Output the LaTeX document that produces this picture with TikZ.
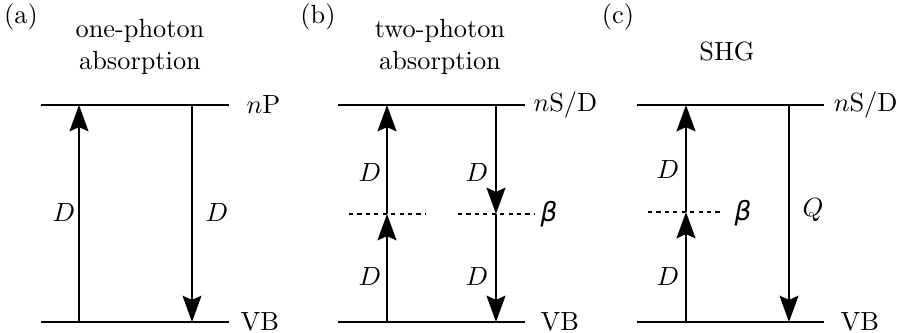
\documentclass[tikz,border=0pt]{standalone}
\usepackage{fontspec}
\newfontfamily\betafont{DejaVu Sans}
\usetikzlibrary{arrows.meta}
\begin{document}
\begin{tikzpicture}[x=0.38pt,y=-0.38pt,
  level/.style={line width=0.8pt},
  thickarr/.style={line width=0.8pt,-{Stealth[length=10pt,width=7.2pt,inset=1.6pt]}},
  thinarr/.style={line width=0.5pt,-{Stealth[length=10pt,width=7.2pt,inset=1.6pt]}},
  virt/.style={line width=0.45pt,dash pattern=on 1.6pt off 1.6pt},
  lbl/.style={inner sep=0pt},
  beta/.style={inner sep=0pt,font=\betafont\itshape}]
\useasboundingbox (0,0) rectangle (900,333);
% ---------- (a)
\node[lbl] (pa) at (21,17) {(a)};
\node[lbl,align=center] (ta) at (140,47) {one-photon\\absorption};
\coordinate (aTL) at (41,105); \coordinate (aTR) at (229,105);
\coordinate (aBL) at (41,322); \coordinate (aBR) at (229,322);
\draw[level] (aTL) -- (aTR);
\draw[level] (aBL) -- (aBR);
\node[lbl,anchor=west] (lnP) at (246,105) {$n$P};
\node[lbl,anchor=west] (laVB) at (240,322) {VB};
\coordinate (aU0) at (79,322); \coordinate (aU1) at (79,105);
\coordinate (aD0) at (192,105); \coordinate (aD1) at (192,322);
\draw[thickarr] (aU0) -- (aU1);
\draw[thinarr] (aD0) -- (aD1);
\node[lbl] (aL1) at (64,213) {$D$};
\node[lbl] (aL2) at (217,213) {$D$};
% ---------- (b)
\node[lbl] (pb) at (318,17) {(b)};
\node[lbl,align=center] (tb) at (440,47) {two-photon\\absorption};
\coordinate (bTL) at (338,105); \coordinate (bTR) at (525,105);
\coordinate (bBL) at (338,322); \coordinate (bBR) at (525,322);
\draw[level] (bTL) -- (bTR);
\draw[level] (bBL) -- (bBR);
\node[lbl,anchor=west] (lbS) at (533,105) {$n$S/D};
\node[lbl,anchor=west] (lbVB) at (540,322) {VB};
\coordinate (bV1L) at (349,214); \coordinate (bV1R) at (425,214);
\coordinate (bV2L) at (458,214); \coordinate (bV2R) at (535,214);
\draw[virt] (bV1L) -- (bV1R);
\draw[virt] (bV2L) -- (bV2R);
\node[beta] (bb) at (549,214) {β};
\coordinate (bU0) at (387,322); \coordinate (bUm) at (387,214); \coordinate (bU1) at (387,105);
\coordinate (bD0) at (496,105); \coordinate (bDm) at (496,214); \coordinate (bD1) at (496,322);
\draw[thickarr] (bU0) -- (bUm);
\draw[thickarr] (bUm) -- (bU1);
\draw[thickarr] (bD0) -- (bDm);
\draw[thickarr] (bDm) -- (bD1);
\node[lbl] (bL1) at (370,173) {$D$};
\node[lbl] (bL2) at (370,277) {$D$};
\node[lbl] (bL3) at (477,173) {$D$};
\node[lbl] (bL4) at (477,277) {$D$};
% ---------- (c)
\node[lbl] (pc) at (618,17) {(c)};
\node[lbl] (tc) at (727,52) {SHG};
\coordinate (cTL) at (637,105); \coordinate (cTR) at (824,105);
\coordinate (cBL) at (637,322); \coordinate (cBR) at (824,322);
\draw[level] (cTL) -- (cTR);
\draw[level] (cBL) -- (cBR);
\node[lbl,anchor=east] (lcS) at (898,105) {$n$S/D};
\node[lbl,anchor=west] (lcVB) at (840,322) {VB};
\coordinate (cVL) at (648,212); \coordinate (cVR) at (723,212);
\draw[virt] (cVL) -- (cVR);
\node[beta] (cb) at (743,213) {β};
\coordinate (cU0) at (686,322); \coordinate (cUm) at (686,212); \coordinate (cU1) at (686,105);
\coordinate (cD0) at (789,105); \coordinate (cD1) at (789,322);
\draw[thickarr] (cU0) -- (cUm);
\draw[thickarr] (cUm) -- (cU1);
\draw[thinarr] (cD0) -- (cD1);
\node[lbl] (cL1) at (668,170) {$D$};
\node[lbl] (cL2) at (668,277) {$D$};
\node[lbl] (cQ) at (813,210) {$Q$};
\end{tikzpicture}
\end{document}
